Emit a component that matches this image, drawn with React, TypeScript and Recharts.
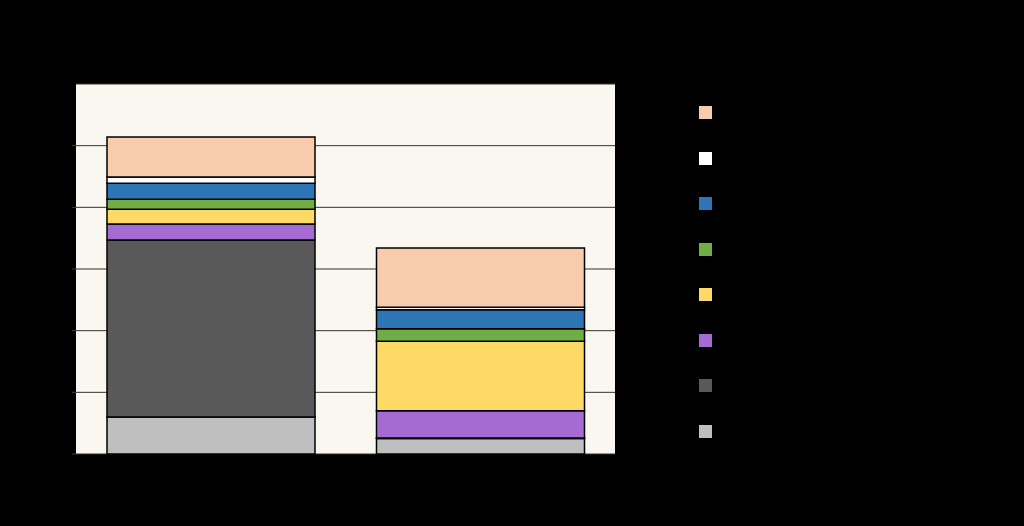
import { BarChart, Bar, XAxis, YAxis, CartesianGrid } from 'recharts';

// categories on the x axis
const categories = ['Before', 'After'];

// stack order, bottom to top
const seriesNames = ['Base', 'Process', 'Lighting', 'Heating', 'Cooling', 'Pumps', 'Controls', 'Other'];
const seriesColors = ['#BFBFBF', '#595959', '#A66BD3', '#FFD966', '#70AD47', '#2E75B6', '#FFFFFF', '#F8CBAD'];

// values per series, one per category
const baseValues = [6.0, 2.5];
const processValues = [28.7, 0.1];
const lightingValues = [2.6, 4.4];
const heatingValues = [2.4, 11.3];
const coolingValues = [1.6, 2.0];
const pumpsValues = [2.6, 3.1];
const controlsValues = [1.0, 0.4];
const otherValues = [6.5, 9.6];

const yTicks = [0, 10, 20, 30, 40, 50];

const seriesValues = [
  baseValues,
  processValues,
  lightingValues,
  heatingValues,
  coolingValues,
  pumpsValues,
  controlsValues,
  otherValues,
];

const data = categories.map((name, i) => {
  const row: Record<string, string | number> = { name };
  seriesNames.forEach((s, j) => {
    row[s] = seriesValues[j][i];
  });
  return row;
});

const font = 'Liberation Sans, Arial, sans-serif';

const LegendBox = () => {
  const items = seriesNames.map((n, i) => ({ name: n, color: seriesColors[i] })).reverse();
  return (
    <div style={{ position: 'absolute', left: 699, top: 90, width: 300 }}>
      {items.map((item) => (
        <div key={item.name} style={{ display: 'flex', alignItems: 'center', height: 45.5 }}>
          <div style={{ width: 13, height: 13, backgroundColor: item.color, marginRight: 10 }} />
          <span style={{ fontSize: 14, color: '#000', fontFamily: font }}>{item.name}</span>
        </div>
      ))}
    </div>
  );
};

export default function App() {
  return (
    <div style={{ position: 'absolute', left: 0, top: 0, width: 1024, height: 526, background: '#000' }}>
      <div
        style={{
          position: 'absolute',
          top: 30,
          left: 76,
          width: 539,
          textAlign: 'center',
          color: '#000',
          fontSize: 18,
          fontFamily: font,
        }}
      >
        Energy use by end use
      </div>
      <BarChart
        width={1024}
        height={526}
        data={data}
        margin={{ top: 84, right: 409, left: 0, bottom: 42 }}
        barCategoryGap={31}
      >
        <CartesianGrid vertical={false} fill="#FAF6F0" stroke="#333" strokeWidth={1} />
        <XAxis
          dataKey="name"
          height={30}
          axisLine={false}
          tickLine={false}
          tick={{ fill: '#000', fontSize: 14, fontFamily: font }}
        />
        <YAxis
          width={76}
          domain={[0, 60]}
          ticks={yTicks}
          axisLine={false}
          tickSize={4}
          tickLine={{ stroke: '#404040' }}
          tick={{ fill: '#000', fontSize: 14, fontFamily: font }}
        />
        {seriesNames.map((s, i) => (
          <Bar
            key={s}
            dataKey={s}
            stackId="a"
            fill={seriesColors[i]}
            stroke="#000"
            strokeWidth={1.5}
            isAnimationActive={false}
          />
        ))}
      </BarChart>
      <LegendBox />
    </div>
  );
}
